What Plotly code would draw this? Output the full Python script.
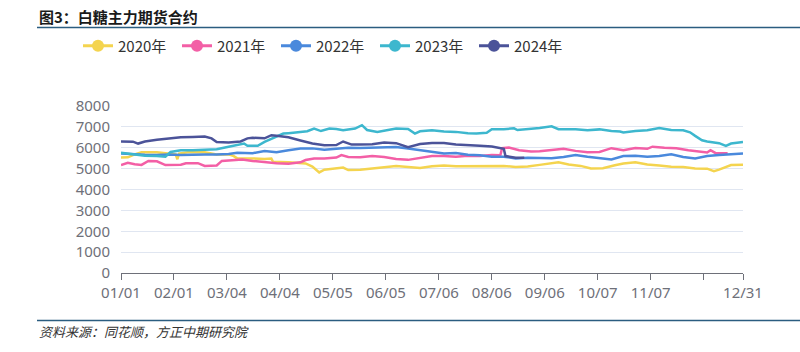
import plotly.graph_objects as go

# ---- data (day index within the year, 0 = 01/01, 364 = 12/31) ----
tick_days = [0, 31, 62, 93, 124, 155, 186, 217, 248, 279, 310, 341, 364]
tick_labels = ["01/01", "02/01", "03/04", "04/04", "05/05", "06/05", "07/06",
               "08/06", "09/06", "10/07", "11/07", "", "12/31"]

series_names = ["2020年", "2021年", "2022年", "2023年", "2024年"]
series_colors = ["#F4D44F", "#F35FA6", "#4A89DC", "#3DB7CE", "#4B5399"]

days_2020 = [0, 4, 8, 12, 21, 28, 32, 33, 34, 39, 49, 56, 63, 66, 68, 77, 84, 88, 89, 98,
             105, 108, 112, 116, 119, 126, 130, 133, 140, 147, 154, 161, 168, 175, 182,
             189, 196, 203, 210, 217, 224, 231, 238, 245, 252, 256, 262, 269, 275, 282,
             289, 294, 301, 308, 315, 322, 329, 336, 343, 347, 350, 354, 357, 364]
vals_2020 = [5530, 5540, 5680, 5780, 5780, 5700, 5680, 5450, 5720, 5780, 5780, 5680, 5680,
             5600, 5490, 5490, 5460, 5480, 5330, 5310, 5280, 5250, 5100, 4820, 4950, 5020,
             5050, 4930, 4950, 5010, 5060, 5120, 5080, 5030, 5110, 5150, 5110, 5120, 5100,
             5140, 5130, 5080, 5100, 5180, 5240, 5300, 5200, 5130, 5010, 5020, 5160, 5250,
             5300, 5200, 5150, 5090, 5080, 5010, 5000, 4880, 4950, 5090, 5170, 5180]

days_2021 = [0, 4, 8, 12, 16, 21, 26, 35, 38, 45, 49, 56, 59, 66, 71, 77, 84, 91, 98, 105,
             108, 113, 119, 126, 129, 133, 140, 147, 154, 161, 168, 175, 182, 189, 196,
             203, 210, 217, 222, 223, 227, 233, 240, 245, 252, 259, 266, 273, 280, 287,
             294, 301, 308, 311, 318, 325, 332, 339, 343, 345, 348, 355]
vals_2021 = [5170, 5280, 5210, 5180, 5370, 5350, 5170, 5190, 5260, 5260, 5130, 5150, 5370,
             5400, 5440, 5370, 5300, 5260, 5230, 5300, 5410, 5490, 5490, 5530, 5650, 5560,
             5540, 5600, 5560, 5460, 5420, 5520, 5600, 5600, 5570, 5620, 5600, 5650, 5640,
             5980, 6010, 5880, 5820, 5830, 5900, 5950, 5850, 5780, 5800, 5980, 5880, 5990,
             5950, 6050, 6000, 5980, 5880, 5800, 5770, 5880, 5740, 5740]

days_2022 = [0, 7, 14, 21, 28, 35, 42, 49, 56, 63, 68, 77, 84, 91, 98, 105, 112, 119, 126,
             133, 140, 147, 154, 161, 168, 175, 182, 189, 196, 203, 210, 217, 224, 231,
             238, 245, 252, 259, 266, 273, 280, 287, 294, 301, 308, 315, 322, 329, 336,
             343, 350, 357, 364]
vals_2022 = [5730, 5690, 5660, 5650, 5680, 5650, 5680, 5680, 5680, 5700, 5760, 5740, 5840,
             5780, 5880, 5960, 5970, 5900, 5950, 6000, 5990, 6010, 6030, 6040, 5960, 5880,
             5780, 5730, 5750, 5660, 5640, 5570, 5570, 5490, 5520, 5520, 5500, 5560, 5650,
             5570, 5490, 5440, 5600, 5620, 5570, 5600, 5690, 5560, 5490, 5600, 5650, 5700,
             5720]

days_2023 = [0, 7, 14, 21, 26, 29, 35, 42, 49, 56, 63, 68, 72, 74, 80, 84, 88, 91, 95, 98,
             105, 109, 113, 117, 122, 126, 130, 137, 141, 144, 150, 157, 161, 168, 172,
             175, 182, 189, 196, 203, 208, 214, 217, 224, 230, 232, 238, 245, 252, 256,
             266, 273, 280, 287, 292, 294, 301, 308, 315, 322, 329, 333, 336, 340, 343,
             350, 354, 357, 364]
vals_2023 = [5760, 5680, 5620, 5600, 5570, 5800, 5880, 5880, 5900, 5930, 6050, 6120, 6200,
             6090, 6090, 6280, 6440, 6550, 6680, 6700, 6760, 6790, 6920, 6800, 6920, 6900,
             6840, 6920, 7080, 6850, 6760, 6850, 6920, 6900, 6680, 6790, 6840, 6780, 6760,
             6700, 6680, 6720, 6890, 6890, 6930, 6850, 6880, 6950, 7030, 6890, 6890, 6840,
             6880, 6800, 6780, 6730, 6800, 6840, 6950, 6850, 6840, 6740, 6570, 6360, 6300,
             6220, 6090, 6200, 6280]

days_2024 = [0, 7, 10, 14, 21, 28, 35, 42, 49, 53, 56, 63, 70, 74, 77, 84, 88, 91, 98, 105,
             112, 119, 126, 130, 135, 140, 147, 154, 161, 168, 172, 175, 182, 189, 196,
             203, 210, 217, 222, 224, 225, 231, 236]
vals_2024 = [6300, 6290, 6200, 6300, 6380, 6450, 6500, 6520, 6540, 6450, 6280, 6250, 6300,
             6450, 6480, 6450, 6600, 6570, 6500, 6350, 6200, 6120, 6130, 6300, 6150, 6150,
             6170, 6250, 6220, 6030, 6120, 6180, 6230, 6230, 6160, 6140, 6100, 6060, 5980,
             5950, 5600, 5520, 5520]

all_days = [days_2020, days_2021, days_2022, days_2023, days_2024]
all_vals = [vals_2020, vals_2021, vals_2022, vals_2023, vals_2024]

# ---- geometry helpers (plot area 121..743 x 106..273 px) ----
L, R, T, B = 121, 743, 106, 273
W, H = 800, 352
def px(X):
    return (X - L) / (R - L)
def py(Y):
    return (B - Y) / (B - T)

FONT = "Noto Sans, Noto Sans CJK SC, sans-serif"
CJK = "Noto Sans CJK SC, sans-serif"

fig = go.Figure()
for name, color, d, v in zip(series_names, series_colors, all_days, all_vals):
    fig.add_trace(go.Scatter(x=d, y=v, mode="lines", name=name, legendgroup=name,
                             showlegend=False, line=dict(color=color, width=2.5),
                             hoverinfo="skip"))
    # legend entry (line + circle symbol)
    fig.add_trace(go.Scatter(x=[None], y=[None], mode="lines+markers", name=name,
                             legendgroup=name, showlegend=True,
                             line=dict(color=color, width=3),
                             marker=dict(color=color, size=12, symbol="circle")))

fig.update_layout(
    width=W, height=H,
    margin=dict(l=L, r=W - R, t=T, b=H - B, pad=0),
    paper_bgcolor="white", plot_bgcolor="white",
    showlegend=True,
    legend=dict(orientation="h", x=px(78), xanchor="left", y=py(46), yanchor="middle",
                font=dict(family=CJK, size=15, color="#333333"),
                entrywidth=54, entrywidthmode="pixels",
                bgcolor="rgba(0,0,0,0)", itemclick=False, itemdoubleclick=False),
    xaxis=dict(range=[0, 364], tickmode="array", tickvals=tick_days, ticktext=tick_labels,
               ticks="outside", ticklen=6, tickcolor="#6E7079", tickwidth=1,
               showline=True, linecolor="#6E7079", linewidth=1,
               showgrid=False, zeroline=False,
               tickfont=dict(family=FONT, size=15, color="#6E7079")),
    yaxis=dict(range=[0, 8000], dtick=1000, tick0=0, showline=False, zeroline=False,
               gridcolor="#E0E6F1", gridwidth=1, ticks="",
               ticklabelstandoff=10,
               tickfont=dict(family=FONT, size=15, color="#6E7079")),
    hovermode=False,
)

# title, rule lines and source note
fig.add_annotation(text="<b>图3：白糖主力期货合约</b>", xref="paper", yref="paper",
                   x=px(37), y=py(16), xanchor="left", yanchor="middle", showarrow=False,
                   font=dict(family=CJK, size=15, color="#1a1a1a"))
fig.add_shape(type="line", xref="paper", yref="paper", x0=px(37), x1=px(800),
              y0=py(27.5), y1=py(27.5), line=dict(color="#2B5D80", width=1.5))
fig.add_shape(type="line", xref="paper", yref="paper", x0=px(37), x1=px(800),
              y0=py(320.5), y1=py(320.5), line=dict(color="#2B5D80", width=1.5))
fig.add_annotation(text="<i>资料来源：同花顺，方正中期研究院</i>", xref="paper", yref="paper",
                   x=px(37), y=py(331), xanchor="left", yanchor="middle", showarrow=False,
                   font=dict(family=CJK, size=13, color="#333333"))

fig.write_html("out.html")
